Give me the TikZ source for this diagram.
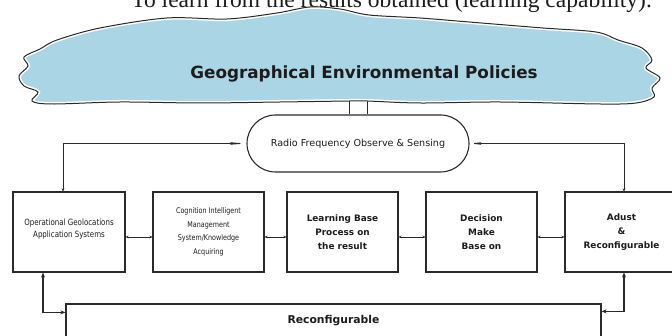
\documentclass[tikz,border=0pt]{standalone}
\usepackage{fontspec}
\setmainfont{DejaVu Sans}
\newfontfamily\condf[FakeStretch=0.82]{DejaVu Sans}
\newfontfamily\serifx{Liberation Serif}
\usetikzlibrary{shapes.misc,arrows.meta}
\definecolor{cloudblue}{HTML}{AAD5E5}
\definecolor{ink}{HTML}{1C1C1C}
\definecolor{edge}{HTML}{2A2A2A}
\tikzset{
  box/.style={draw=edge, line width=1.2pt, rectangle, inner sep=1pt, align=center,
              text=ink, minimum height=80pt},
  smalltxt/.style={font=\condf\fontsize{7.8}{13.6}\selectfont},
  widetxt/.style={font=\condf\fontsize{8.6}{12}\selectfont},
  bigtxt/.style={font=\bfseries\fontsize{8.9}{13.8}\selectfont},
  linkarrow/.style={draw=edge, line width=0.6pt, {Stealth[length=3pt,width=2.6pt]}-{Stealth[length=3pt,width=2.6pt]}},
  sensearrow/.style={draw=edge, line width=0.9pt},
  loopline/.style={draw=edge, line width=1.3pt, {Stealth[length=5pt,width=4pt]}-{Stealth[length=5pt,width=4pt]}},
}
\begin{document}
\begin{tikzpicture}[x=1pt, y=-1pt]
\useasboundingbox (0,0) rectangle (672,336);
\clip (0,0) rectangle (672,336);

% caption line running above the cloud
\node[anchor=base east, inner sep=0, font=\serifx\fontsize{23.5}{26}\selectfont, text=ink]
  (caption) at (652,8) {To learn from the results obtained (learning capability).};

% policy cloud
\def\cloudpath{plot[smooth cycle, tension=0.55] coordinates {
  (57,40) (100,28) (167,18) (227,19) (277,13) (310,7) (340,9) (369,15) (420,18)
  (469,22) (543,28) (596,32) (618,40) (642,48) (652,60) (646,68) (660,78) (652,88) (654,97)
  (636,103) (600,104) (500,102) (420,103) (367,101) (350,101) (280,102) (200,103)
  (120,102) (52,104) (32,101) (38,92) (24,86) (19,76) (28,66) (24,57) (40,49)}}
\fill[cloudblue] \cloudpath;
\begin{scope}
  \clip \cloudpath;
  \draw[white, line width=4pt] \cloudpath;
\end{scope}
\draw[edge, line width=1pt] \cloudpath;
\node[font=\bfseries\fontsize{16.8}{19}\selectfont, text=ink] (policy) at (364,74)
  {Geographical Environmental Policies};
\coordinate (stemL) at (349,101.5);
\coordinate (stemR) at (367,101.5);

% sensing terminal
\node[draw=edge, line width=1.1pt, rounded rectangle, minimum width=222pt, minimum height=57pt,
      inner sep=0, text=ink, font=\fontsize{9.6}{12}\selectfont] (rf) at (358,143.5)
  {Radio Frequency Observe \& Sensing};
\draw[edge, line width=1pt] (stemL) -- (stemL |- rf.north);
\draw[edge, line width=1pt] (stemR) -- (stemR |- rf.north);

% processing chain
\node[box, widetxt, minimum width=112pt] (b1) at (69,232)
  {Operational Geolocations\\Application Systems\\[-4pt]{}};
\node[box, smalltxt, minimum width=111pt] (b2) at (208.5,232)
  {Cognition Intelligent\\Management\\System/Knowledge\\Acquiring};
\node[box, bigtxt, minimum width=111pt] (b3) at (342.5,232)
  {Learning Base\\Process on\\the result};
\node[box, bigtxt, minimum width=111pt] (b4) at (481.5,232)
  {Decision\\Make\\Base on};
\node[box, bigtxt, minimum width=113pt] (b5) at (621.5,232)
  {Adust\\\&\\Reconfigurable};

\draw[linkarrow] ([yshift=-5pt]b1.east) -- ([yshift=-5pt]b2.west);
\draw[linkarrow] ([yshift=-5pt]b2.east) -- ([yshift=-5pt]b3.west);
\draw[linkarrow] ([yshift=-5pt]b3.east) -- ([yshift=-5pt]b4.west);
\draw[linkarrow] ([yshift=-5pt]b4.east) -- ([yshift=-5pt]b5.west);

% sensing feedback to both ends of the chain
\draw[sensearrow, {Stealth[length=3pt,width=3pt]}-{Stealth[length=22pt,width=3.2pt]}]
  ([xshift=-6pt]b1.north) |- (rf.west);
\draw[sensearrow, {Stealth[length=3pt,width=3pt]}-{Stealth[length=16pt,width=3.2pt]}]
  ([xshift=2.5pt]b5.north) |- (rf.east);

% reconfiguration bus
\node[draw=edge, line width=1.2pt, rectangle, minimum width=535pt, minimum height=34pt,
      inner sep=0, text=ink, font=\bfseries\fontsize{10.8}{12}\selectfont] (reconf) at (333.5,321)
  {Reconfigurable};
\draw[loopline] ([xshift=-26pt]b1.south) |- ([yshift=-9pt]reconf.north west);
\draw[loopline] ([xshift=2.5pt]b5.south) |- ([yshift=-8pt]reconf.north east);
\end{tikzpicture}
\end{document}
